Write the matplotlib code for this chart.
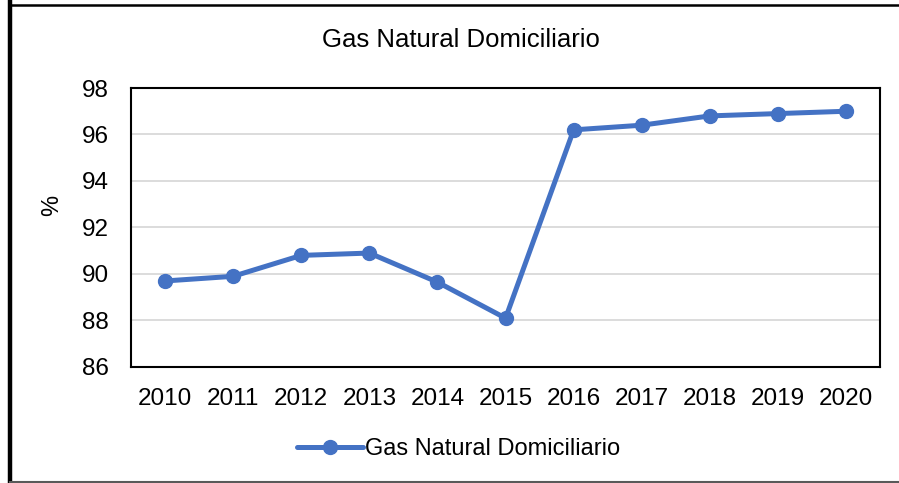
import matplotlib
matplotlib.use('Agg')
import matplotlib.pyplot as plt
from matplotlib.lines import Line2D

years = ['2010', '2011', '2012', '2013', '2014', '2015', '2016', '2017', '2018', '2019', '2020']
gas = [89.7, 89.9, 90.8, 90.9, 89.65, 88.1, 96.2, 96.4, 96.8, 96.9, 97.0]
yticks = [86, 88, 90, 92, 94, 96, 98]

plt.rcParams['font.family'] = ['Liberation Sans', 'DejaVu Sans']

fig = plt.figure(figsize=(8.99, 4.83), dpi=100)
ax = fig.add_axes([0.1457, 0.2402, 0.979 - 0.1457, 0.8178 - 0.2402])

x = list(range(len(years)))
ax.plot(x, gas, color='#4472C4', lw=3.6, marker='o', ms=10,
        solid_capstyle='round', label='Gas Natural Domiciliario')

ax.set_xlim(-0.5, len(years) - 0.5)
ax.set_ylim(86, 98)
ax.set_yticks(yticks)
ax.set_xticks(x)
ax.set_xticklabels(years)
ax.tick_params(length=0, labelsize=17.5, colors='black')
ax.tick_params(axis='x', pad=15)
ax.tick_params(axis='y', pad=16)
ax.grid(axis='y', color='#D9D9D9', lw=1.3)
ax.set_axisbelow(True)
for s in ax.spines.values():
    s.set_color('black')
    s.set_linewidth(1.5)

ax.set_ylabel('%', fontsize=17)
ax.yaxis.set_label_coords(-0.09, 0.58)

fig.text(0.513, 0.917, 'Gas Natural Domiciliario', ha='center', va='center', fontsize=18.5)
fig.legend(loc='center', bbox_to_anchor=(0.51, 0.07), frameon=False, fontsize=17,
           handlelength=2.8, handletextpad=0.1)

# outer frame: thick left, thin top, grey bottom
W, H = 899, 483
fig.lines.append(Line2D([10 / W, 10 / W], [0, 1], transform=fig.transFigure, color='black', lw=3.2))
fig.lines.append(Line2D([10 / W, 1], [1 - 4.5 / H, 1 - 4.5 / H], transform=fig.transFigure, color='black', lw=1.8))
fig.lines.append(Line2D([10 / W, 1], [1.5 / H, 1.5 / H], transform=fig.transFigure, color='#595959', lw=1.5))

fig.savefig('out.png', dpi=100)
plt.close()
